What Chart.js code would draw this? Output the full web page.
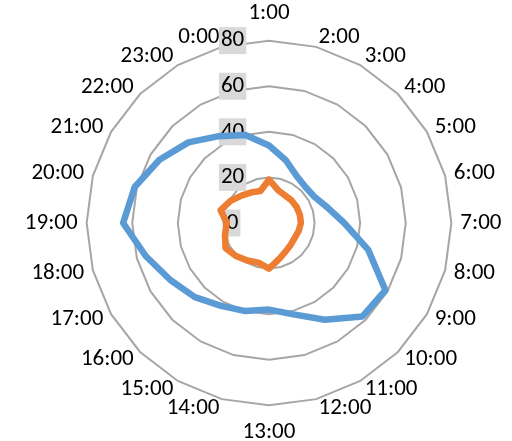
<!DOCTYPE html>
<html>
<head>
<meta charset="utf-8">
<script src="https://cdn.jsdelivr.net/npm/chart.js@4.4.1/dist/chart.umd.min.js"></script>
<style>
  html, body { margin: 0; padding: 0; background: #ffffff; }
  canvas { display: block; }
</style>
</head>
<body>
<canvas id="chart" width="512" height="441"></canvas>
<script>
// Hour of day, clockwise from the top
const hours = ['1:00', '2:00', '3:00', '4:00', '5:00', '6:00', '7:00', '8:00',
  '9:00', '10:00', '11:00', '12:00', '13:00', '14:00', '15:00', '16:00',
  '17:00', '18:00', '19:00', '20:00', '21:00', '22:00', '23:00', '0:00'];

// Hourly values of the two series
const blueSeries = [34, 28.5, 24, 22.5, 23, 26.5, 33, 45, 59, 58, 49, 41.5,
  38, 40, 42, 46, 50, 56, 64, 61, 55.5, 50, 44, 40];
const orangeSeries = [19, 15, 14, 14, 14, 14, 14, 13.5, 13, 13.5, 14.5, 16.5,
  20, 18, 19, 20.5, 22, 20, 18.5, 22, 19.5, 17, 15.5, 14.5];

// Radial axis ticks
const tickValues = [0, 20, 40, 60, 80];

const FONT_FAMILY = "Carlito, Lato, 'Liberation Sans', sans-serif";
const FONT_SIZE = 23;

// Tick labels sit left of the vertical axis: trailing spaces move the
// centred text left, and a matching negative right padding trims the backdrop.
const measureCtx = document.createElement('canvas').getContext('2d');
measureCtx.font = FONT_SIZE + 'px ' + FONT_FAMILY;
const spaceWidth = measureCtx.measureText(' ').width;
const TRAIL_SPACES = 14;
const trailWidth = TRAIL_SPACES * spaceWidth;

function lineDataset(values, color) {
  return {
    data: values,
    borderColor: color,
    borderWidth: 6.5,
    borderJoinStyle: 'round',
    backgroundColor: 'rgba(0,0,0,0)',
    fill: false,
    pointRadius: 0,
    pointHoverRadius: 0,
    tension: 0
  };
}

new Chart(document.getElementById('chart'), {
  type: 'radar',
  data: {
    labels: hours,
    datasets: [
      lineDataset(blueSeries, '#5b9bd5'),
      lineDataset(orangeSeries, '#ed7d31')
    ]
  },
  options: {
    responsive: false,
    animation: false,
    devicePixelRatio: 1,
    layout: { padding: { left: 16, right: 0, top: 13, bottom: 7 } },
    plugins: { legend: { display: false }, tooltip: { enabled: false } },
    scales: {
      r: {
        // a hair below zero so the "0" tick label is drawn too
        min: -0.0001,
        max: 80,
        afterBuildTicks: (scale) => {
          scale.ticks = tickValues.map(v => ({ value: v }));
        },
        angleLines: { display: false },
        grid: {
          color: (ctx) => ctx.index === 0 ? 'rgba(0,0,0,0)' : '#a6a6a6',
          lineWidth: 2
        },
        ticks: {
          callback: (value) => String(value) + ' '.repeat(TRAIL_SPACES),
          color: '#000000',
          font: { family: FONT_FAMILY, size: FONT_SIZE, lineHeight: 0.05 },
          showLabelBackdrop: true,
          backdropColor: '#d9d9d9',
          backdropPadding: { top: 2, bottom: 2, left: 2, right: 2 - trailWidth }
        },
        pointLabels: {
          color: '#000000',
          // tiny line height keeps each hour label vertically centred on its anchor
          font: { family: FONT_FAMILY, size: FONT_SIZE, lineHeight: 0.05 },
          padding: (ctx) => (ctx.index === 0 || ctx.index === 12) ? 13 : -4.5
        }
      }
    }
  }
});
</script>
</body>
</html>
